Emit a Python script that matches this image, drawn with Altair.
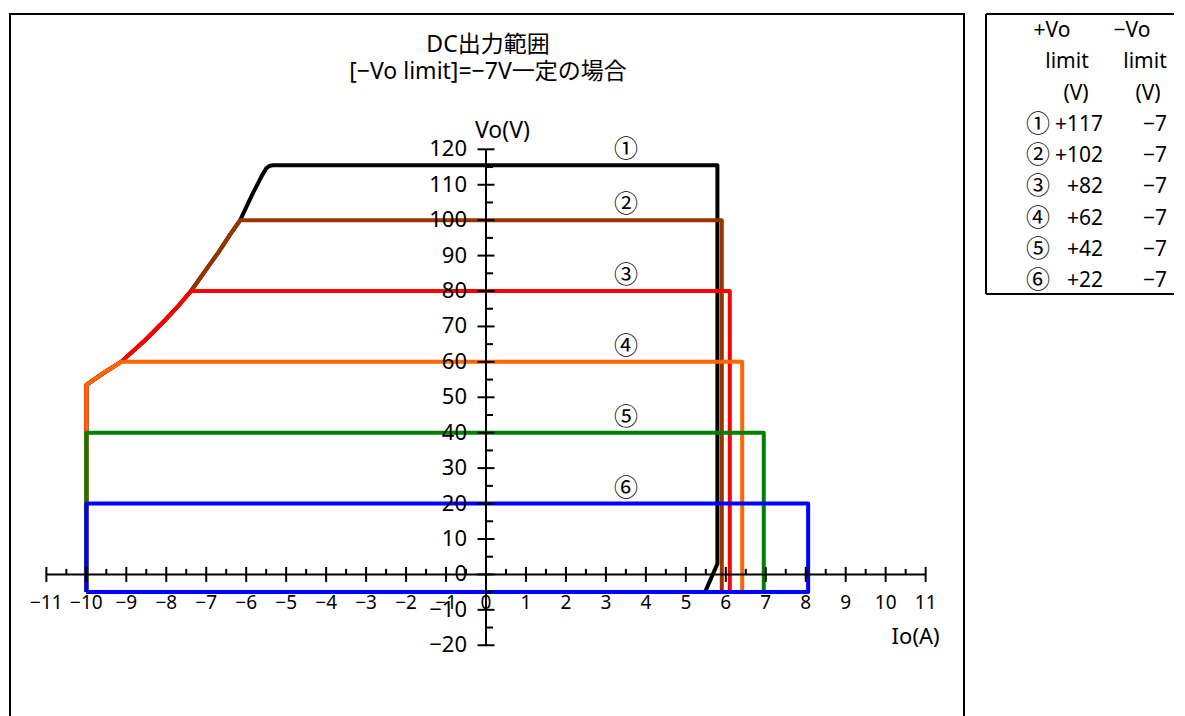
import altair as alt
import pandas as pd

# ---------------- data ----------------
series_names = ["①", "②", "③", "④", "⑤", "⑥"]
series_colors = ["#000000", "#993300", "#FF0000", "#FF6600", "#008000", "#0000FF"]
vo_level = [115.5, 100.0, 80.0, 60.0, 40.0, 20.0]      # top edge of each range (V)
io_right = [5.79, 5.90, 6.10, 6.41, 6.95, 8.06]        # right edge of each range (A)
io_left = -10.0
vo_bottom = -5.0
# common power-limit curve on the sink side (Io, Vo)
curve_io = [-10.0, -9.55, -9.13, -8.53, -8.03, -7.69, -7.38, -7.03, -6.69, -6.40, -6.15,
            -5.86, -5.61, -5.50, -5.42, -5.34]
curve_vo = [53.5, 57.0, 60.0, 66.1, 71.8, 75.9, 80.0, 85.6, 91.0, 96.0, 100.0,
            107.0, 112.5, 114.6, 115.3, 115.5]
# slanted lower-right part of trace ①
knee_vo = 3.0
knee_io_bottom = 5.48

x_ticks = list(range(-11, 12))
x_minor = [v + 0.5 for v in range(-11, 11)]
y_ticks = list(range(-20, 121, 10))
y_minor = [v + 5 for v in range(-20, 120, 10)]

title_lines = ["DC出力範囲", "[−Vo limit]=−7V一定の場合"]
x_title = "Io(A)"
y_title = "Vo(V)"

tbl_header_pos = ["+Vo", "limit", "(V)"]
tbl_header_neg = ["−Vo", "limit", "(V)"]
tbl_pos = ["+117", "+102", "+82", "+62", "+42", "+22"]
tbl_neg = ["−7", "−7", "−7", "−7", "−7", "−7"]

# ---------------- layout ----------------
FONT = "Noto Sans, Noto Sans CJK JP"
W, H = 954, 706
X_DOM = [-11.91, 11.96]
Y_DOM = [-41.1, 158.2]
px_x = W / (X_DOM[1] - X_DOM[0])
px_y = H / (Y_DOM[1] - Y_DOM[0])
xs = alt.Scale(domain=X_DOM, nice=False, zero=False)
ys = alt.Scale(domain=Y_DOM, nice=False, zero=False)


def ex(f):
    return alt.X(f, type="quantitative", scale=xs, axis=None)


def ey(f):
    return alt.Y(f, type="quantitative", scale=ys, axis=None)


def build_path(k):
    lvl = vo_level[k]
    r = io_right[k]
    pts = [(io_left, vo_bottom)]
    if lvl > curve_vo[0]:
        pts += [(x, y) for x, y in zip(curve_io, curve_vo) if y <= lvl]
    else:
        pts.append((io_left, lvl))
    pts.append((r, lvl))
    if k == 0:
        pts += [(r, knee_vo), (knee_io_bottom, vo_bottom)]
    else:
        pts.append((r, vo_bottom))
    pts.append((io_left, vo_bottom))
    return pts


layers = []
for k, (name, col) in enumerate(zip(series_names, series_colors)):
    pts = build_path(k)
    d = pd.DataFrame({"i": list(range(len(pts))),
                      "io": [p[0] for p in pts],
                      "vo": [p[1] for p in pts]})
    layers.append(
        alt.Chart(d).mark_line(color=col, strokeWidth=4, strokeJoin="round")
        .encode(x=ex("io"), y=ey("vo"), order="i:Q")
    )

# axis lines
xa = pd.DataFrame({"x": [x_ticks[0]], "x2": [x_ticks[-1]], "y": [0]})
layers.append(alt.Chart(xa).mark_rule(color="black", strokeWidth=2)
              .encode(x=ex("x"), x2="x2:Q", y=ey("y")))
ya = pd.DataFrame({"y": [y_ticks[0]], "y2": [y_ticks[-1]], "x": [0]})
layers.append(alt.Chart(ya).mark_rule(color="black", strokeWidth=2)
              .encode(y=ey("y"), y2="y2:Q", x=ex("x")))

# ticks
xt = pd.DataFrame({"x": x_ticks, "a": -7.5 / px_y, "b": 7.5 / px_y})
layers.append(alt.Chart(xt).mark_rule(color="black", strokeWidth=2)
              .encode(x=ex("x"), y=ey("a"), y2="b:Q"))
xm = pd.DataFrame({"x": x_minor, "a": 0.0, "b": 5.5 / px_y})
layers.append(alt.Chart(xm).mark_rule(color="black", strokeWidth=2)
              .encode(x=ex("x"), y=ey("a"), y2="b:Q"))
yt = pd.DataFrame({"y": y_ticks, "a": -8.5 / px_x, "b": 8.5 / px_x})
layers.append(alt.Chart(yt).mark_rule(color="black", strokeWidth=2)
              .encode(y=ey("y"), x=ex("a"), x2="b:Q"))
ym = pd.DataFrame({"y": y_minor, "a": 0.0, "b": 7 / px_x})
layers.append(alt.Chart(ym).mark_rule(color="black", strokeWidth=2)
              .encode(y=ey("y"), x=ex("a"), x2="b:Q"))

# tick labels
xl = pd.DataFrame({"x": x_ticks, "y": 0, "t": [str(v).replace("-", "−") for v in x_ticks]})
layers.append(alt.Chart(xl).mark_text(font=FONT, fontSize=19, align="center", baseline="middle", dy=29, color="black")
              .encode(x=ex("x"), y=ey("y"), text="t:N"))
yl = pd.DataFrame({"y": y_ticks, "x": 0, "t": [str(v).replace("-", "−") for v in y_ticks]})
layers.append(alt.Chart(yl).mark_text(font=FONT, fontSize=22, align="right", baseline="middle", dx=-19, color="black")
              .encode(x=ex("x"), y=ey("y"), text="t:N"))

# series markers
sl = pd.DataFrame({"x": 3.5, "y": vo_level, "t": series_names})
layers.append(alt.Chart(sl).mark_text(font=FONT, fontSize=24, align="center", baseline="middle", dy=-15, color="black")
              .encode(x=ex("x"), y=ey("y"), text="t:N"))

# axis titles
layers.append(alt.Chart(pd.DataFrame({"x": [0], "y": [y_ticks[-1]], "t": [y_title]}))
              .mark_text(font=FONT, fontSize=23, align="left", baseline="middle", dx=-11, dy=-18, color="black")
              .encode(x=ex("x"), y=ey("y"), text="t:N"))
layers.append(alt.Chart(pd.DataFrame({"x": [x_ticks[-1]], "y": [0], "t": [x_title]}))
              .mark_text(font=FONT, fontSize=22, align="center", baseline="middle", dx=-10, dy=63, color="black")
              .encode(x=ex("x"), y=ey("y"), text="t:N"))

# chart title, inside the frame
for line, yy in zip(title_lines, (31, 58)):
    layers.append(alt.Chart(pd.DataFrame({"t": [line]}))
                  .mark_text(font=FONT, fontSize=23, align="center", baseline="middle", color="black")
                  .encode(x=alt.value(W / 2 + 1), y=alt.value(yy), text="t:N"))

main = alt.layer(*layers).properties(
    width=W, height=H,
    view=alt.ViewBackground(stroke="black", strokeWidth=2, fill="white"),
)

# ---------------- table ----------------
TW, TH = 188, 280
row_scale = alt.Scale(type="point", domain=list(range(9)), range=[17, 267], padding=0)
tlayers = []
# frame: left, top and bottom edges (right edge lies outside the picture)
for enc in (dict(x=alt.value(0), y=alt.value(0), y2=alt.value(TH)),
            dict(x=alt.value(0), x2=alt.value(TW), y=alt.value(0)),
            dict(x=alt.value(0), x2=alt.value(TW), y=alt.value(TH))):
    tlayers.append(alt.Chart(pd.DataFrame({"a": [0]})).mark_rule(color="black", strokeWidth=2).encode(**enc))
hdr_x_pos = [66, 81, 90]
hdr_x_neg = [146, 159, 162]
for r in range(3):
    for txt, xx in ((tbl_header_pos[r], hdr_x_pos[r]), (tbl_header_neg[r], hdr_x_neg[r])):
        tlayers.append(alt.Chart(pd.DataFrame({"row": [r], "t": [txt]}))
                       .mark_text(font=FONT, fontSize=21, align="center", baseline="middle", color="black")
                       .encode(y=alt.Y("row:O", scale=row_scale, axis=None), x=alt.value(xx), text="t:N"))
body = pd.DataFrame({"row": list(range(3, 9)), "c": series_names, "p": tbl_pos, "n": tbl_neg})
tlayers.append(alt.Chart(body).mark_text(font=FONT, fontSize=24, align="left", baseline="middle", color="black")
               .encode(y=alt.Y("row:O", scale=row_scale, axis=None), x=alt.value(40), text="c:N"))
tlayers.append(alt.Chart(body).mark_text(font=FONT, fontSize=21, align="right", baseline="middle", color="black")
               .encode(y=alt.Y("row:O", scale=row_scale, axis=None), x=alt.value(117), text="p:N"))
tlayers.append(alt.Chart(body).mark_text(font=FONT, fontSize=21, align="right", baseline="middle", color="black")
               .encode(y=alt.Y("row:O", scale=row_scale, axis=None), x=alt.value(181), text="n:N"))
table = alt.layer(*tlayers).properties(width=TW, height=TH)

chart = alt.hconcat(main, table, spacing=20).properties(
    padding={"left": 1, "top": 5, "right": 0, "bottom": 0},
    background="white",
).configure_view(stroke=None)

chart.save("out.html", embed_options={"renderer": "svg", "actions": False})
